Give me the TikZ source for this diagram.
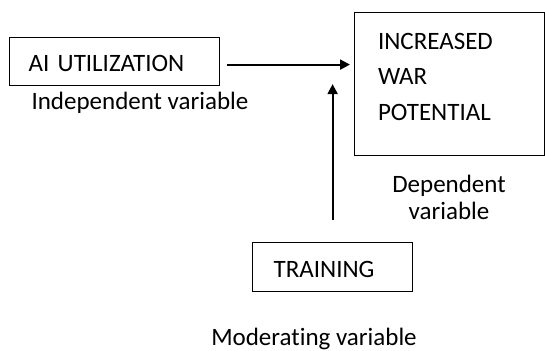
\documentclass[tikz,border=0pt]{standalone}
\usepackage{fontspec}
\setmainfont{Carlito}[Ligatures=NoCommon]
\usetikzlibrary{arrows.meta, positioning}

\begin{document}
\begin{tikzpicture}[x=1pt,y=-1pt,->,>={Triangle[length=10pt,width=10pt]},
		line width=2pt,
		box/.style={draw, rectangle, line width=1.2pt, inner sep=0pt, anchor=north west},
		txt/.style={font=\fontsize{25}{35.5}\selectfont, inner sep=0pt}]
		\useasboundingbox (0,0) rectangle (545,350);

		%% Nodes
		\begin{scope}
			\node (ai) at (9,37) [box, txt, minimum width=210pt, minimum height=48pt, text width=172pt, inner xsep=19pt, text height=20pt, text depth=0pt, align=left] {AI UTILIZATION};
			\node (dv) at (354,12) [box, minimum width=190pt, minimum height=143pt] {};
			\node (dv_text) [txt, align=left, anchor=north west, below right = 20pt and 23pt of dv.north west] {INCREASED\\WAR\\POTENTIAL};
			\node (training) at (252,242) [box, txt, minimum width=160pt, minimum height=49pt, text width=118pt, inner xsep=21pt, text height=21pt, text depth=0pt, align=left] {TRAINING};
		\end{scope}

		% Labels
		\begin{scope}
			\node (iv_label) at (140,109) [txt, anchor=base] {Independent variable};
			\node (dv_label) at (449,174) [txt, anchor=north, align=center, font=\fontsize{25}{27}\selectfont] {Dependent\\variable};
			\node (mv_label) at (314,345) [txt, anchor=base] {Moderating variable};
		\end{scope}

		%% Edges
		\draw ([xshift=7pt,yshift=-3pt]ai.east) -- ([xshift=-4pt,yshift=-3pt]ai.east -| dv.west);
		\draw ([yshift=22pt]training.north) -- (training.north |- dv.west);
	\end{tikzpicture}
\end{document}
